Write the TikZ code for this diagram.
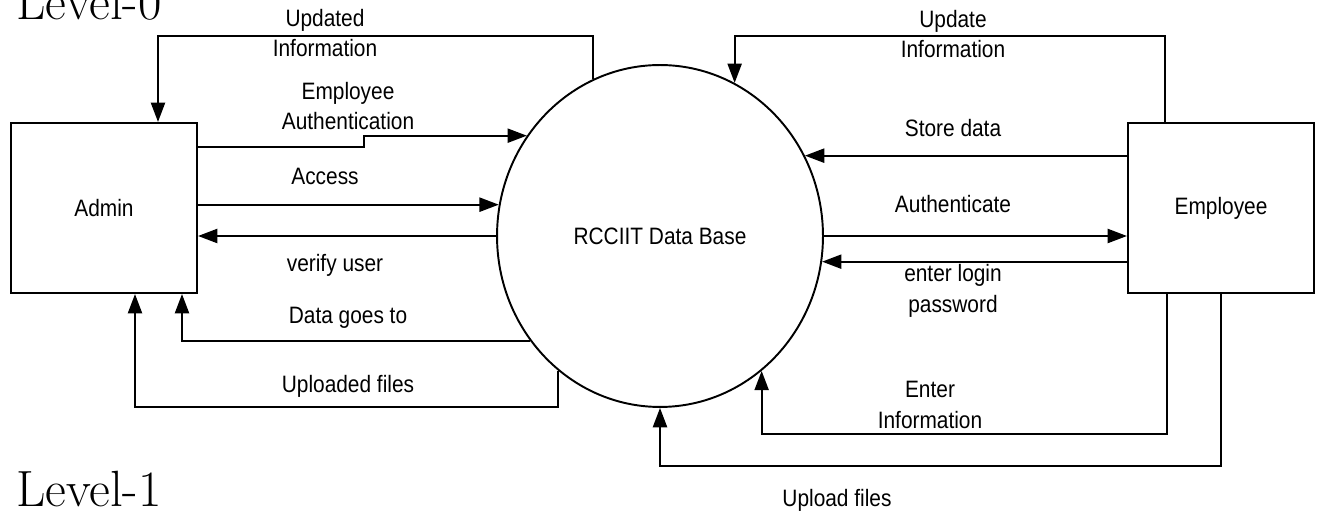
\documentclass[tikz,border=0pt]{standalone}
\usepackage{fontspec}
\usepackage{tikz}
\usetikzlibrary{calc,arrows.meta,shapes.geometric}
\newfontfamily\dfdfont{Liberation Sans}[FakeStretch=0.88]

\begin{document}
\begin{tikzpicture}[x=0.02cm,y=-0.02cm,line width=1.2pt]
\tikzstyle{ann} = [font=\dfdfont\fontsize{13.5}{17.5}\selectfont,align=center,inner sep=1pt]
\tikzstyle{ent} = [draw,minimum width=3.72cm,minimum height=3.4cm,font=\dfdfont\fontsize{13.5}{17.5}\selectfont]
\tikzstyle{flow} = [-{Triangle[length=11pt,width=8pt]}]
\tikzstyle{lvl} = [anchor=base west,inner sep=0pt,font=\fontsize{29}{34}\selectfont]
\useasboundingbox (0,0) rectangle (1322,516);

%%%%%% Titulos
\node[lvl] (lvl0) at (15,20) {Level-0};
\node[lvl] (lvl1) at (15,507) {Level-1};

%%%%%% Entidades
\node[ent] (admin) at (104,208) {Admin};
\node[ent] (emp) at (1221,208) {Employee};
\node[draw,ellipse,inner sep=0pt,line width=1.1pt,minimum width=6.52cm,minimum height=6.84cm,
  font=\dfdfont\fontsize{13.5}{17.5}\selectfont] (db) at (660,236) {RCCIIT Data Base};

%%%%%% Fluxos Admin
\draw[flow] (db.113.3) -- ++(0,-43) -| ($(admin.north)+(54,0)$);
\node[ann] (updi) at (325,33) {Updated\\Information};

\draw[flow] ($(admin.east)+(0,-61)$) -- ++(166,0) |- (db.143.7);
\node[ann] (auth) at (348,106) {Employee\\Authentication};

\draw[flow] (admin.east |- db.169.8) -- (db.169.8);
\node[ann] (acc) at (325,176) {Access};

\draw[flow] (db.west) -- (admin.east |- db.west);
\node[ann] (ver) at (335,265) {verify user};

\draw[flow] (db.219.6) -| ($(admin.south)+(78,0)$);
\node[ann] (dgo) at (348,318) {Data goes to};

\draw[flow] (db.233.5) -- ++(0,36) -| ($(admin.south)+(31,0)$);
\node[ann] (upd) at (348,386) {Uploaded files};

%%%%%% Fluxos Employee
\draw[flow] ($(emp.north)+(-56,0)$) -- ++(0,-86) -| (db.64.86);
\node[ann] (updr) at (953,34) {Update\\Information};

\draw[flow] (emp.west |- db.29.44) -- (db.29.44);
\node[ann] (sto) at (953,128) {Store data};

\draw[flow] (db.east) -- (emp.west |- db.east);
\node[ann] (aut) at (953,204) {Authenticate};

\draw[flow] (emp.west |- db.-9.52) -- (db.-9.52);
\node[ann] (login) at (953,291) {enter login\\password};

\draw[flow] ($(emp.south)+(-54,0)$) -- ++(0,140) -| (db.-53.9);
\node[ann] (ent) at (930,405) {Enter\\Information};

\draw[flow] (emp.south) -- ++(0,172) -| (db.south);
\node[ann] (upf) at (837,500) {Upload files};
\end{tikzpicture}
\end{document}
